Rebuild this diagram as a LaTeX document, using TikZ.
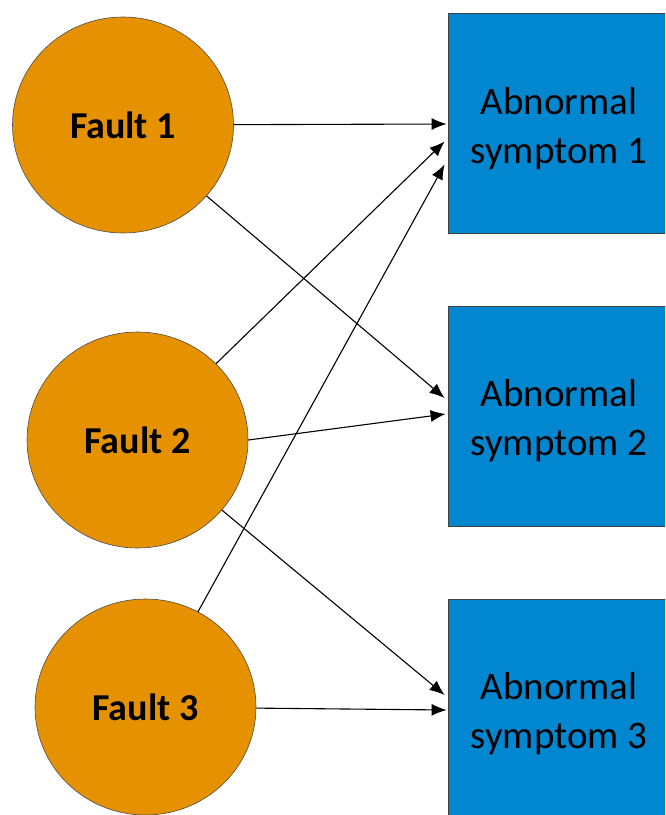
\documentclass[tikz,border=0pt]{standalone}
\usepackage{fontspec}
\setmainfont{Carlito}
\usetikzlibrary{arrows.meta,calc,shapes.geometric}
\definecolor{faultorange}{RGB}{230,146,0}
\definecolor{sympblue}{RGB}{0,135,208}
\newcommand{\toppad}{\rule{0pt}{37pt}}
\begin{document}
\begin{tikzpicture}[x=1pt,y=-1pt,
  fault/.style={ellipse, draw=black!70, line width=0.6pt, fill=faultorange,
    minimum width=221pt, minimum height=216pt, inner sep=0pt,
    font=\fontsize{38}{44}\selectfont\bfseries},
  symp/.style={rectangle, draw=black!75, line width=0.8pt, fill=sympblue,
    minimum width=222pt, minimum height=220pt, inner sep=0pt, align=center,
    font=\fontsize{39}{49}\selectfont},
  link/.style={-{Latex[length=15pt,width=12pt]}, line width=1.1pt, black}]
\useasboundingbox (0,0) rectangle (665,815);
\begin{scope}
\clip (0,0) rectangle (665,815);
\node[fault] (f1) at (123,125) {Fault 1};
\node[fault] (f2) at (137.5,440) {Fault 2};
\node[fault] (f3) at (145.5,707) {Fault 3};
\node[symp] (s1) at (559,123.5) {\toppad Abnormal\\symptom 1};
\node[symp] (s2) at (559,416) {\toppad Abnormal\\symptom 2};
\node[symp] (s3) at (559,709) {\toppad Abnormal\\symptom 3};
\end{scope}
\draw[link] (f1) -- ($(s1.west)+(-1,0.5)$);
\draw[link] (f2) -- ($(s1.west)+(-3,18)$);
\draw[link] (f3) -- ($(s1.west)+(-3,41)$);
\draw[link] (f1) -- ($(s2.west)+(-3,-18)$);
\draw[link] (f2.east) -- ($(s2.west)+(-2,-2)$);
\draw[link] (f2) -- ($(s3.west)+(-3,-14)$);
\draw[link] (f3) -- ($(s3.west)+(-1,1)$);
\end{tikzpicture}
\end{document}
